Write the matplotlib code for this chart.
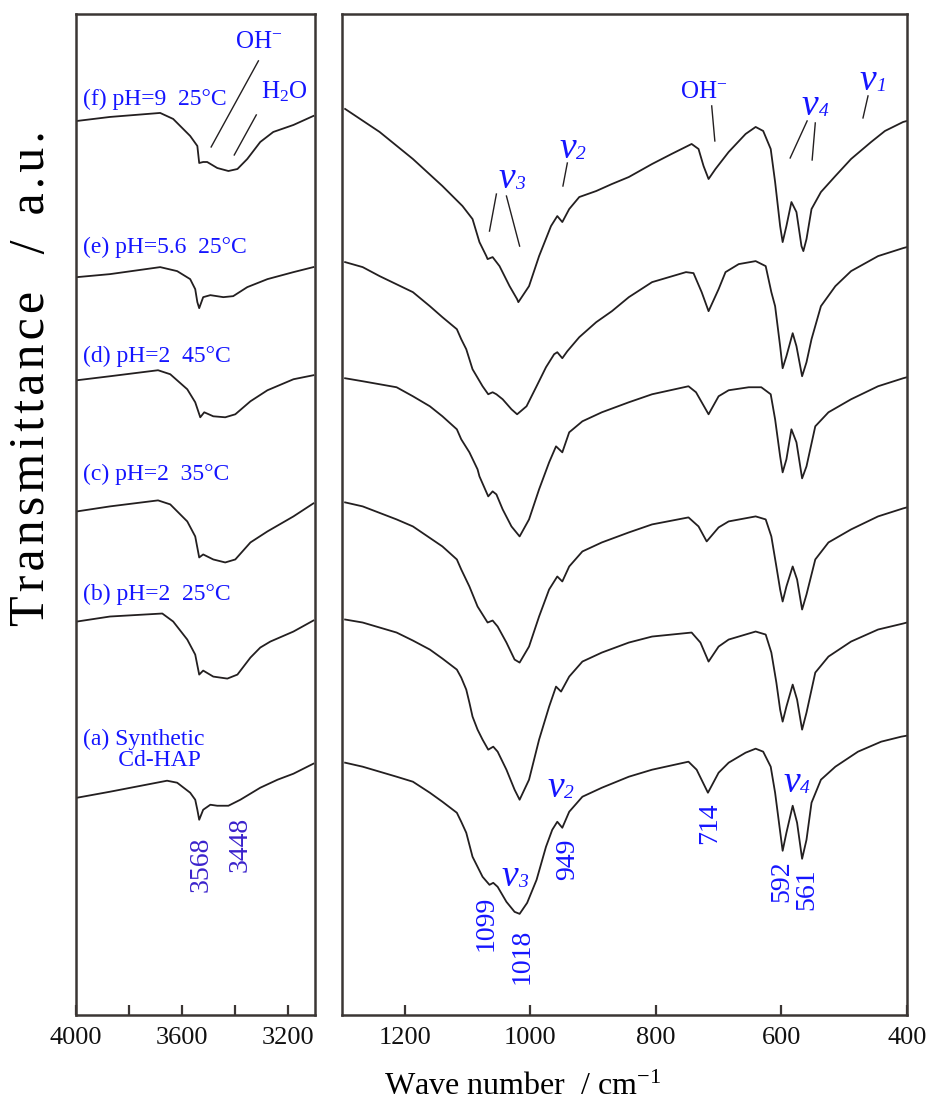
import matplotlib
matplotlib.use('Agg')
import matplotlib.pyplot as plt
from matplotlib.ticker import FixedLocator, FuncFormatter

plt.rcParams['font.family'] = ['Liberation Serif', 'DejaVu Serif']
plt.rcParams['mathtext.fontset'] = 'custom'
plt.rcParams['mathtext.rm'] = 'Liberation Serif'
plt.rcParams['mathtext.it'] = 'Liberation Serif:italic'

# ---- Datos (numero de onda, transmitancia) ----
# Panel izquierdo 4000-3100 cm-1
wn_l_f = [3996, 3872, 3683, 3634, 3570, 3543, 3536, 3521, 3506, 3468, 3426, 3392, 3355, 3306, 3257, 3181, 3106]
t_l_f = [89.3, 89.7, 90.1, 89.5, 87.8, 86.8, 85.1, 85.2, 85.2, 84.6, 84.3, 84.5, 85.5, 87.2, 88.2, 88.9, 89.8]
wn_l_e = [3996, 3872, 3683, 3619, 3570, 3551, 3543, 3536, 3521, 3494, 3445, 3408, 3355, 3279, 3181, 3106]
t_l_e = [73.7, 74.0, 74.7, 74.3, 73.5, 72.5, 71.2, 70.6, 71.7, 71.9, 71.7, 71.8, 72.7, 73.5, 74.2, 74.7]
wn_l_d = [3996, 3872, 3691, 3645, 3581, 3551, 3532, 3517, 3483, 3438, 3400, 3343, 3279, 3181, 3106]
t_l_d = [63.4, 63.8, 64.4, 64.0, 62.5, 61.2, 59.7, 60.2, 59.8, 59.7, 60.0, 61.3, 62.4, 63.5, 63.9]
wn_l_c = [3996, 3872, 3691, 3645, 3581, 3551, 3536, 3521, 3483, 3438, 3400, 3343, 3279, 3181, 3106]
t_l_c = [50.3, 50.8, 51.4, 51.0, 49.3, 47.8, 45.7, 46.0, 45.5, 45.2, 45.5, 47.2, 48.3, 49.8, 51.1]
wn_l_b = [3996, 3872, 3675, 3634, 3581, 3551, 3536, 3521, 3483, 3430, 3392, 3343, 3306, 3268, 3181, 3106]
t_l_b = [39.3, 39.8, 40.1, 39.3, 37.5, 36.0, 34.0, 34.4, 33.8, 33.6, 34.0, 35.7, 36.7, 37.3, 38.3, 39.4]
wn_l_a = [3996, 3872, 3657, 3619, 3570, 3551, 3543, 3536, 3521, 3494, 3468, 3426, 3381, 3306, 3241, 3181, 3106]
t_l_a = [21.7, 22.3, 23.4, 23.2, 22.2, 21.5, 20.5, 19.5, 20.5, 21.0, 20.9, 20.9, 21.5, 22.7, 23.5, 24.1, 25.1]

# Panel derecho 1300-400 cm-1
wn_r_f = [1295, 1240, 1187, 1140, 1108, 1092, 1081, 1070, 1068, 1060, 1049, 1033, 1021, 1019, 1002, 986, 967,
          957, 949, 938, 922, 895, 870, 843, 806, 775, 743, 732, 724, 716, 705, 684, 657, 641, 629, 617, 610,
          602, 598, 592, 584, 576, 568, 565, 560, 552, 537, 514, 489, 457, 435, 406, 400]
t_r_f = [90.5, 88.2, 85.5, 82.8, 80.8, 79.5, 77.2, 75.8, 75.5, 75.7, 74.8, 72.8, 71.5, 71.2, 72.8, 75.8, 78.8,
         79.8, 79.2, 80.5, 81.7, 82.3, 83.0, 83.7, 85.0, 86.0, 87.0, 86.5, 84.8, 83.5, 84.5, 86.2, 88.0, 88.7,
         88.3, 86.5, 83.2, 78.8, 77.2, 78.8, 81.2, 80.2, 76.8, 76.3, 77.5, 80.5, 82.2, 83.8, 85.5, 87.2, 88.3,
         89.2, 89.3]
wn_r_e = [1295, 1267, 1240, 1187, 1160, 1140, 1117, 1110, 1102, 1092, 1076, 1067, 1060, 1054, 1044, 1030, 1021,
          1006, 990, 975, 962, 957, 949, 941, 922, 895, 870, 843, 806, 752, 740, 727, 716, 700, 689, 668, 641,
          625, 616, 610, 602, 598, 592, 582, 576, 567, 560, 552, 537, 514, 489, 446, 406, 400]
t_r_e = [75.2, 74.7, 73.8, 72.2, 70.8, 69.7, 68.5, 67.5, 66.5, 64.5, 62.8, 62.0, 62.2, 62.0, 61.5, 60.5, 60.0,
         60.8, 62.8, 64.7, 66.0, 66.2, 65.6, 66.3, 67.7, 69.2, 70.3, 71.7, 73.2, 74.2, 74.1, 72.2, 70.3, 72.5,
         74.2, 75.0, 75.3, 74.8, 72.2, 70.8, 66.8, 64.6, 65.8, 68.1, 66.8, 63.8, 65.2, 67.5, 70.8, 72.8, 74.3,
         75.8, 76.6, 76.7]
wn_r_d = [1295, 1267, 1213, 1187, 1160, 1140, 1117, 1110, 1097, 1084, 1081, 1067, 1060, 1054, 1044, 1030, 1017,
          1002, 986, 970, 959, 949, 938, 917, 886, 843, 806, 748, 736, 716, 700, 684, 652, 632, 617, 610, 602,
          598, 592, 584, 576, 567, 560, 546, 525, 489, 446, 406, 400]
t_r_d = [63.6, 63.3, 62.7, 61.8, 60.8, 59.8, 58.5, 57.5, 56.2, 54.5, 53.8, 51.8, 52.3, 52.0, 50.5, 48.8, 47.8,
         49.5, 52.5, 55.2, 56.8, 56.2, 58.2, 59.3, 60.2, 61.2, 62.0, 62.8, 62.2, 60.0, 61.8, 62.4, 62.7, 62.7,
         62.0, 59.5, 55.8, 54.2, 55.5, 58.5, 57.2, 53.6, 54.8, 58.8, 60.2, 61.5, 62.8, 63.6, 63.7]
wn_r_c = [1295, 1267, 1213, 1187, 1140, 1117, 1110, 1097, 1084, 1068, 1060, 1052, 1038, 1025, 1017, 1002, 986,
          970, 957, 949, 938, 917, 886, 843, 806, 748, 732, 719, 700, 684, 641, 625, 616, 608, 602, 598, 592,
          582, 575, 567, 560, 546, 525, 489, 446, 406, 400]
t_r_c = [51.2, 50.8, 49.5, 48.8, 46.8, 45.5, 44.5, 42.8, 40.8, 39.2, 39.4, 38.8, 37.2, 35.5, 35.2, 36.8, 39.8,
         42.5, 43.8, 43.3, 44.8, 46.3, 47.2, 48.2, 49.0, 49.7, 48.8, 47.3, 48.7, 49.3, 49.8, 49.5, 47.8, 44.8,
         42.5, 41.3, 42.8, 44.8, 43.5, 40.5, 42.0, 45.5, 47.2, 48.5, 49.8, 50.6, 50.7]
wn_r_b = [1295, 1267, 1213, 1187, 1160, 1140, 1117, 1110, 1102, 1097, 1092, 1084, 1076, 1067, 1059, 1052, 1038,
          1025, 1017, 1002, 986, 970, 959, 951, 938, 917, 886, 843, 806, 743, 729, 716, 700, 684, 641, 625, 616,
          608, 602, 598, 592, 582, 575, 567, 560, 546, 525, 489, 446, 406, 400]
t_r_b = [39.5, 39.2, 38.2, 37.4, 36.5, 35.6, 34.5, 33.7, 32.5, 31.2, 29.8, 28.5, 27.5, 26.5, 26.8, 26.3, 24.5,
         22.5, 21.5, 23.5, 27.5, 30.8, 32.8, 32.3, 33.8, 35.3, 36.2, 37.2, 37.8, 38.2, 37.2, 35.3, 36.8, 37.5,
         38.3, 38.0, 36.2, 33.2, 30.5, 29.3, 30.8, 33.0, 31.5, 28.5, 30.2, 34.2, 35.8, 37.3, 38.5, 39.1, 39.2]
wn_r_a = [1295, 1267, 1213, 1187, 1160, 1140, 1117, 1110, 1102, 1097, 1092, 1084, 1076, 1065, 1059, 1052, 1038,
          1025, 1017, 1005, 990, 975, 965, 957, 949, 938, 917, 886, 843, 806, 748, 735, 717, 700, 684, 657, 641,
          629, 617, 610, 603, 598, 592, 582, 575, 567, 560, 552, 537, 514, 478, 441, 409, 400]
t_r_a = [25.2, 24.8, 23.8, 23.3, 22.2, 21.3, 20.2, 19.3, 18.2, 17.0, 15.8, 14.8, 13.8, 13.0, 13.2, 12.8, 11.3,
         10.3, 10.1, 11.2, 13.5, 16.8, 18.5, 19.3, 18.7, 20.3, 21.8, 22.7, 23.8, 24.5, 25.3, 24.5, 22.2, 24.2,
         25.2, 26.2, 26.6, 26.3, 24.8, 22.2, 18.8, 16.4, 18.2, 20.9, 19.2, 15.6, 17.5, 21.2, 23.5, 24.8, 26.3,
         27.3, 27.8, 27.9]

etiquetas = ['(a) Synthetic\n      Cd-HAP', '(b) pH=2  25°C', '(c) pH=2  35°C',
             '(d) pH=2  45°C', '(e) pH=5.6  25°C', '(f) pH=9  25°C']
pos_etiquetas = [26.5, 42.0, 54.0, 65.8, 76.7, 91.5]

picos_l = ['3568', '3448']
picos_l_x = [3528, 3381]
picos_l_y = [15.0, 17.0]
picos_r = ['1099', '1018', '949', '714', '592', '561']
picos_r_x = [1070, 1013, 941, 714, 600, 560]
picos_r_y = [9.2, 5.9, 15.6, 19.2, 13.4, 12.6]

# modos de vibracion (v + subindice)
modos = ['3', '2', '4', '1', '2', '3', '4']
modos_x = [1038, 940, 554, 462, 960, 1033, 583]
modos_y = [83.5, 86.5, 90.8, 93.3, 22.7, 13.8, 23.2]

linea = '#231f20'
azul = '#1515ff'
eje = '#3b3634'

fig = plt.figure(figsize=(9.28, 11.06), dpi=100)
ax1 = fig.add_axes([0.0819, 0.0823, 0.2575, 0.9052])
ax2 = fig.add_axes([0.3685, 0.0823, 0.6088, 0.9052])

for x, y in [(wn_l_a, t_l_a), (wn_l_b, t_l_b), (wn_l_c, t_l_c), (wn_l_d, t_l_d), (wn_l_e, t_l_e), (wn_l_f, t_l_f)]:
    ax1.plot(x, y, color=linea, lw=1.3)
for x, y in [(wn_r_a, t_r_a), (wn_r_b, t_r_b), (wn_r_c, t_r_c), (wn_r_d, t_r_d), (wn_r_e, t_r_e), (wn_r_f, t_r_f)]:
    ax2.plot(x, y, color=linea, lw=1.3)

ax1.set_xlim(4000, 3100)
ax2.set_xlim(1300, 400)
for ax in (ax1, ax2):
    ax.set_ylim(0, 100)
    ax.set_yticks([])
    for s in ax.spines.values():
        s.set_linewidth(1.8)
        s.set_color(eje)
    ax.tick_params(axis='x', direction='in', length=7, width=1.6, color=eje,
                   labelsize=19, pad=9, labelcolor='#111111')

ax1.xaxis.set_major_locator(FixedLocator([4000, 3800, 3600, 3400, 3200]))
ax1.xaxis.set_major_formatter(FuncFormatter(lambda v, p: '%d' % v if v % 400 == 0 else ''))
ax2.xaxis.set_major_locator(FixedLocator([1200, 1000, 800, 600, 400]))

# etiquetas de muestras
for txt, yy in zip(etiquetas, pos_etiquetas):
    ax1.text(3974, yy, txt, color=azul, fontsize=17, va='center', ha='left', linespacing=1.0)

for txt, xx, yy in zip(picos_l, picos_l_x, picos_l_y):
    ax1.text(xx, yy, txt, color='#3a22cc', fontsize=20, rotation=90, ha='center', va='center')
for txt, xx, yy in zip(picos_r, picos_r_x, picos_r_y):
    ax2.text(xx, yy, txt, color=azul, fontsize=20, rotation=90, ha='center', va='center')

# asignaciones de bandas
ax1.text(3313, 97.2, 'OH$^{-}$', color=azul, fontsize=18, ha='center', va='center')
ax1.text(3215, 92.2, 'H$_2$O', color=azul, fontsize=18, ha='center', va='center')
ax1.plot([3313, 3491], [95.3, 86.7], color=linea, lw=1)
ax1.plot([3321, 3404], [89.9, 85.9], color=linea, lw=1)

for num, xx, yy in zip(modos, modos_x, modos_y):
    ax2.text(xx, yy, 'v', color=azul, fontsize=27, style='italic', ha='center', va='center')
    ax2.annotate(num, (xx, yy), xytext=(6, -4), textcoords='offset points', color=azul,
                 fontsize=14, style='italic', ha='left', va='center')
ax2.text(724, 92.2, 'OH$^{-}$', color=azul, fontsize=18, ha='center', va='center')

for xs, ys in [([1054, 1065], [82.0, 78.3]), ([1038, 1017], [81.8, 76.8]), ([941, 948], [85.1, 82.8]),
               ([711, 706], [90.8, 87.3]), ([559, 586], [89.3, 85.6]), ([546, 551], [89.1, 85.4]),
               ([462, 470], [91.8, 89.6])]:
    ax2.plot(xs, ys, color=linea, lw=1)

fig.text(0.563, 0.004, 'Wave number  / cm$^{-1}$', fontsize=23, ha='center', va='bottom')
ylab = '\u200a'.join('Transmittance') + '   /  ' + '\u200a'.join('a.u.')
fig.text(0.034, 0.658, ylab, fontsize=36, rotation=90, ha='center', va='center')

plt.savefig('out.png', dpi=100)
